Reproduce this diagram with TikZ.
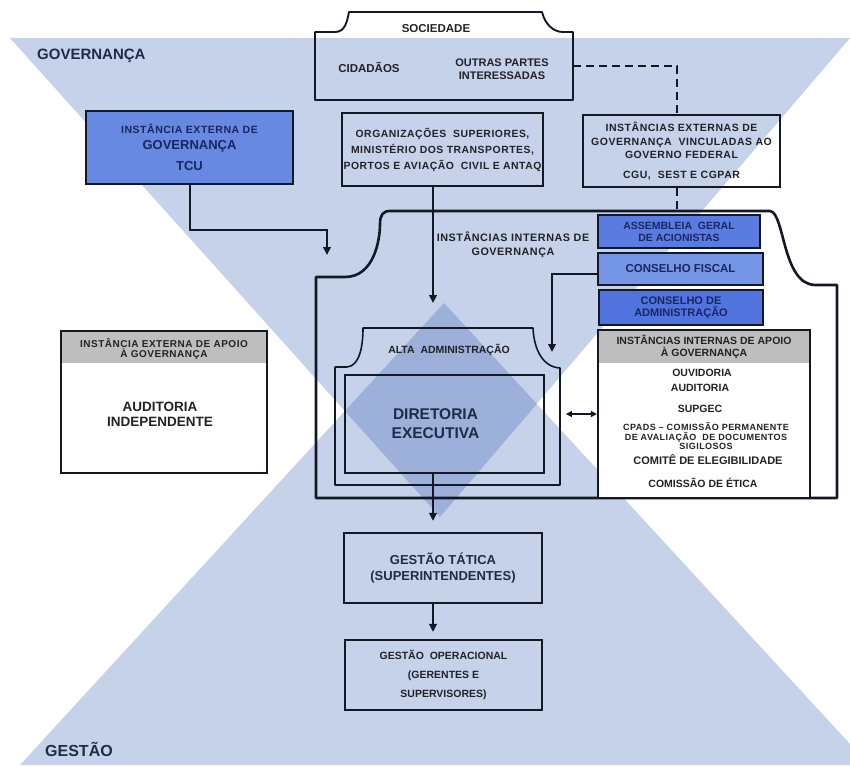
\documentclass[tikz,border=0pt]{standalone}
\usepackage{fontspec}
\setmainfont{Liberation Sans}
\newfontfamily\spaced{Liberation Sans}[LetterSpace=5]
\usetikzlibrary{arrows.meta,calc}
\definecolor{band}{HTML}{C5D2EA}
\definecolor{bandDark}{HTML}{9CB0D9}
\definecolor{navy}{HTML}{1E2B4A}
\definecolor{ink}{HTML}{222228}
\definecolor{lineC}{HTML}{141824}
\definecolor{boxText}{HTML}{1A2660}
\definecolor{tcuBlue}{HTML}{6789E2}
\definecolor{assBlue}{HTML}{5A7CE1}
\definecolor{fisBlue}{HTML}{7595E6}
\definecolor{admBlue}{HTML}{5073DE}
\definecolor{hdrGray}{HTML}{BEBEBE}
\newcommand\fsz[2]{\fontsize{#1}{#2}\selectfont}
\tikzset{
  box/.style={draw=lineC, line width=2.2pt, inner sep=0pt, align=center, text=ink},
  lbl/.style={inner sep=0pt, align=center, text=ink},
  hd/.style={inner sep=0pt, text=navy, font=\fsz{15}{17}\bfseries},
  shapeline/.style={draw=lineC, line width=1.9pt, line join=round},
  bigline/.style={draw=lineC, line width=2.6pt, line join=round},
  arr/.style={draw=lineC, line width=2pt, -{Triangle[length=8pt,width=7.5pt]}},
  dblarr/.style={draw=lineC, line width=1.6pt, {Triangle[length=6pt,width=6pt]}-{Triangle[length=6pt,width=6pt]}},
  dashline/.style={draw=lineC, line width=2pt, dash pattern=on 8pt off 5pt},
  hdrfill/.style={path picture={\fill[hdrGray] (path picture bounding box.north west) rectangle ([yshift=-#1]path picture bounding box.north east);}}
}
\begin{document}
\begin{tikzpicture}[x=1pt,y=-1pt]
\useasboundingbox (0,0) rectangle (850,765);
% background hourglass
\fill[band] (10,38) -- (850,38) -- (440,517) -- cycle;
\fill[band] (444,303) -- (850,744) -- (850,765) -- (20,765) -- cycle;
\begin{scope}
  \clip (10,38) -- (850,38) -- (440,517) -- cycle;
  \fill[bandDark] (444,303) -- (850,744) -- (850,765) -- (20,765) -- cycle;
\end{scope}

% titles
\node[hd, anchor=west] (gov) at (37,56) {GOVERNANÇA};
\node[hd, anchor=west, font=\fsz{16}{18}\bfseries] (ges) at (45,749) {GESTÃO};

% sociedade
\draw[shapeline] (315,100) -- (315,32) -- (335,32) .. controls (345,32) and (347,22) .. (349,12)
  -- (542,12) .. controls (545,24) and (553,32) .. (563,32) -- (573,32) -- (573,100) -- cycle;
\coordinate (socR) at (573,66);
\node[lbl, font=\fsz{11.5}{13}\bfseries] (soc) at (436,29) {SOCIEDADE};
\node[lbl, font=\fsz{11.5}{13}\bfseries] (cid) at (369,67) {CIDADÃOS};
\node[lbl, font=\fsz{11}{13.5}\bfseries] (outras) at (502,69) {OUTRAS PARTES\\INTERESSADAS};

% top row boxes
\node[box, fill=tcuBlue, text=boxText, minimum width=207, minimum height=73, font=\fsz{13}{16}\bfseries] (tcu) at (189.5,147.5)
  {{\fsz{10.5}{12}\spaced\bfseries INSTÂNCIA EXTERNA DE}\\GOVERNANÇA\\[5pt]TCU};
\node[box, minimum width=201, minimum height=73, font=\fsz{10.4}{16}\spaced\bfseries] (org) at (442.5,149.5)
  {ORGANIZAÇÕES \ SUPERIORES,\\MINISTÉRIO DOS TRANSPORTES,\\PORTOS E AVIAÇÃO \ CIVIL E ANTAQ};
\node[box, minimum width=197, minimum height=72, font=\fsz{10.5}{13.5}\spaced\bfseries] (cgu) at (681.5,151)
  {INSTÂNCIAS EXTERNAS DE\\GOVERNANÇA \ VINCULADAS AO\\GOVERNO FEDERAL\\[6pt]CGU, \ SEST E CGPAR};

% dashed link
\coordinate (dashEnd) at (677,211);
\draw[dashline] (socR) -| (cgu.north -| dashEnd);
\draw[dashline] (cgu.south -| dashEnd) -- (dashEnd);

% internal governance shape
\draw[bigline] (316,498) -- (316,277) -- (345,277) .. controls (374,277) and (380,240) .. (380,224)
  .. controls (380,215) and (383,211) .. (390,211) -- (770,211)
  .. controls (785,213) and (782,284) .. (815,285) -- (837,285) -- (837,498) -- cycle;
\node[lbl, font=\fsz{10.8}{14}\spaced\bfseries] (iig) at (513,245) {INSTÂNCIAS INTERNAS DE\\GOVERNANÇA};

% alta administracao
\draw[shapeline, line width=1.6pt] (335,485) -- (335,367) -- (347,367) .. controls (360,366) and (363,345) .. (363,328)
  -- (533,328) .. controls (534,350) and (543,367) .. (560,368) -- (560,485) -- cycle;
\node[lbl, font=\fsz{10.5}{12}\bfseries] (alta) at (449,350) {ALTA \ ADMINISTRAÇÃO};
\node[box, minimum width=199, minimum height=98, text=navy, font=\fsz{15.5}{19}\bfseries] (dir) at (444.5,424)
  {DIRETORIA\hspace*{18pt}\\EXECUTIVA\hspace*{18pt}};

% councils
\node[box, fill=assBlue, text=boxText, minimum width=162, minimum height=33, font=\fsz{10.5}{12}\bfseries] (ass) at (679,231.5) {ASSEMBLEIA \ GERAL\\DE ACIONISTAS};
\node[box, fill=fisBlue, text=boxText, minimum width=165, minimum height=32, font=\fsz{11.5}{13}\bfseries] (fis) at (680.5,269) {CONSELHO FISCAL};
\node[box, fill=admBlue, text=boxText, minimum width=164, minimum height=35, font=\fsz{11}{12}\bfseries] (adm) at (681,307.5) {CONSELHO DE\\ADMINISTRAÇÃO};

% internal support
\node[box, fill=white, hdrfill=33pt, minimum width=212, minimum height=168] (apoio) at (704,414) {};
\node[lbl, font=\fsz{10.5}{12}\bfseries] (apoioH) at (704,347) {INSTÂNCIAS INTERNAS DE APOIO\\À GOVERNANÇA};
\node[lbl, font=\fsz{10.5}{12}\bfseries] (ouv) at (702,373) {OUVIDORIA};
\node[lbl, font=\fsz{10.5}{12}\bfseries] (audi) at (700,388) {AUDITORIA};
\node[lbl, font=\fsz{10.5}{12}\bfseries] (supgec) at (700,409) {SUPGEC};
\node[lbl, font=\fsz{9}{9.5}\spaced\bfseries] (cpads) at (706,436.5) {CPADS – COMISSÃO PERMANENTE\\DE AVALIAÇÃO \ DE DOCUMENTOS\\SIGILOSOS};
\node[lbl, font=\fsz{11}{12}\bfseries] (comite) at (708,460) {COMITÊ DE ELEGIBILIDADE};
\node[lbl, font=\fsz{10.5}{12}\bfseries] (etica) at (703,483) {COMISSÃO DE ÉTICA};

% external support
\node[box, fill=white, hdrfill=32pt, minimum width=206, minimum height=142] (audbox) at (164,402) {};
\node[lbl, font=\fsz{10}{10.5}\spaced\bfseries] (audH) at (164,349) {INSTÂNCIA EXTERNA DE APOIO\\À GOVERNANÇA};
\node[lbl, font=\fsz{13.5}{15}\bfseries] (audT) at (160,414.5) {AUDITORIA\\INDEPENDENTE};

% management
\node[box, minimum width=198, minimum height=70, text=navy, font=\fsz{13}{16}\bfseries] (gt) at (443,568) {GESTÃO TÁTICA\\(SUPERINTENDENTES)};
\node[box, minimum width=197, minimum height=70, font=\fsz{10.5}{19}\bfseries] (go) at (443.5,675) {GESTÃO \ OPERACIONAL\\(GERENTES E\\SUPERVISORES)};

% arrows
\coordinate (axis) at (433,0);
\coordinate (orgEnd) at (433,303);
\coordinate (tcuEnd) at (327,255);
\coordinate (fisEnd) at (552,352);
\draw[arr] (tcu.south) |- ($(tcuEnd)+(0,-25)$) -- (tcuEnd);
\draw[arr] (org.south -| axis) -- (orgEnd);
\draw[arr] ($(fis.west)+(0,5)$) -| (fisEnd);
\draw[dblarr] (apoio.west) -- ++(-31,0);
\draw[arr, shorten >=11pt] (dir.south -| axis) -- (gt.north -| axis);
\draw[arr, shorten >=7pt] (gt.south -| axis) -- (go.north -| axis);
\end{tikzpicture}
\end{document}
